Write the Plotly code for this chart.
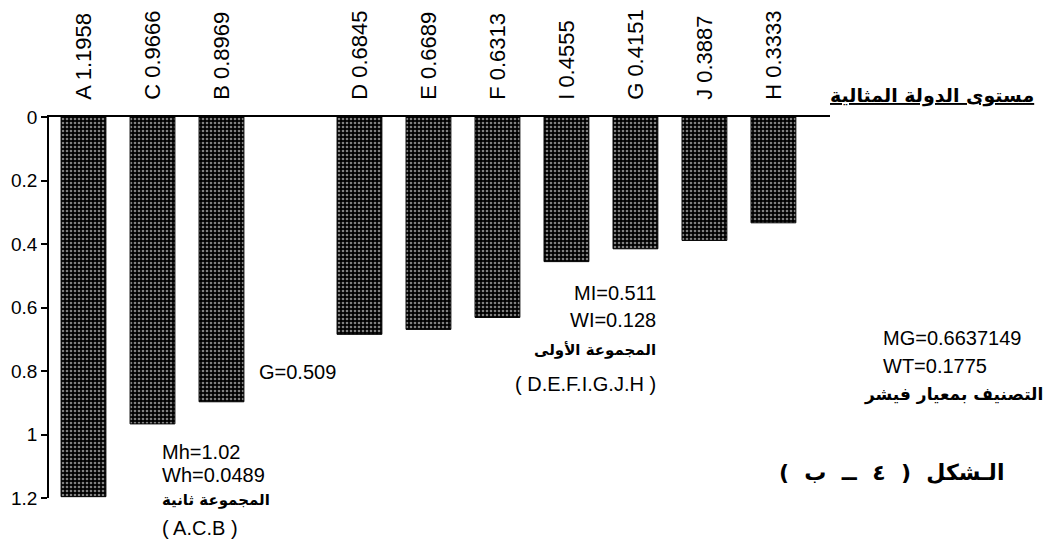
import plotly.graph_objects as go

# ---- data ----
letters = ["A", "C", "B", "D", "E", "F", "I", "G", "J", "H"]
values = [1.1958, 0.9666, 0.8969, 0.6845, 0.6689, 0.6313, 0.4555, 0.4151, 0.3887, 0.3333]
y_ticks = [0, 0.2, 0.4, 0.6, 0.8, 1.0, 1.2]
y_ticktext = ["0", "0.2", "0.4", "0.6", "0.8", "1", "1.2"]

title_ar = "مستوى الدولة المثالية"
group2 = ["Mh=1.02", "Wh=0.0489", "المجموعة ثانية", "( A.C.B )"]
group1 = ["MI=0.511", "WI=0.128", "المجموعة الأولى", "( D.E.F.I.G.J.H )"]
group_total = ["MG=0.6637149", "WT=0.1775", "التصنيف بمعيار فيشر"]
g_text = "G=0.509"
fig_label = "الـشكل  (  ٤  ــ  ب  )"

# ---- layout constants (reference pixel coordinates) ----
W, H = 1051, 546
L, R, T, B = 49, 830, 117, 498
OFF = 8  # page body margin in the browser
GAP_INDEX = 3  # empty slot between the two groups

labels = [f"{l} {v}" for l, v in zip(letters, values)]
cats = labels[:GAP_INDEX] + [" "] + labels[GAP_INDEX:]
vals = values[:GAP_INDEX] + [None] + values[GAP_INDEX:]

NUM_FONT = "Liberation Sans, Arial, sans-serif"
AR_FONT = "DejaVu Sans, sans-serif"

fig = go.Figure()
fig.add_trace(go.Bar(
    x=cats, y=vals,
    marker=dict(color="black",
                line=dict(color="black", width=1),
                pattern=dict(shape=".", fgcolor="white", bgcolor="black",
                             size=4, solidity=0.35)),
    showlegend=False,
))

def px(x):
    return (x - L) / (R - L)

def py(y):
    return (B - y) / (B - T)

ann = []
def add(text, x, y, xanchor="left", size=20, font=NUM_FONT):
    ann.append(dict(text=text, x=px(x), y=py(y), xref="paper", yref="paper",
                    xanchor=xanchor, yanchor="middle", showarrow=False,
                    font=dict(family=font, size=size, color="black")))

# title (underlined)
add(f"<b><u>{title_ar}</u></b>", 1036, 95, xanchor="right", size=19, font=AR_FONT)

# group 2 (A, C, B)
add(group2[0], 160, 452)
add(group2[1], 160, 475)
add(f"<b>{group2[2]}</b>", 160, 500, size=15, font=AR_FONT)
add(group2[3], 160, 528)

# G annotation
add(g_text, 257, 372)

# group 1
add(group1[0], 658, 293, xanchor="right")
add(group1[1], 658, 320, xanchor="right")
add(f"<b>{group1[2]}</b>", 658, 350, xanchor="right", size=15, font=AR_FONT)
add(group1[3], 658, 384, xanchor="right")

# total
add(group_total[0], 881, 338)
add(group_total[1], 881, 366)
add(f"<b>{group_total[2]}</b>", 1045, 394, xanchor="right", size=17, font=AR_FONT)

# figure label
add(f"<b>{fig_label}</b>", 1006, 472, xanchor="right", size=22, font=AR_FONT)

fig.update_layout(
    width=W, height=H,
    margin=dict(l=L - OFF, r=W - R + OFF, t=T - OFF, b=H - B + OFF, pad=0,
                autoexpand=False),
    paper_bgcolor="white", plot_bgcolor="white",
    bargap=0.35,
    font=dict(family=NUM_FONT, size=20, color="black"),
    annotations=ann,
    xaxis=dict(
        type="category", side="top", range=[-0.5, 10.82],
        categoryorder="array", categoryarray=cats,
        showline=True, linecolor="black", linewidth=1.5,
        ticks="", tickangle=-90, ticklabelstandoff=11,
        tickfont=dict(family=NUM_FONT, size=22),
        showgrid=False, zeroline=False, fixedrange=True, automargin=False,
    ),
    yaxis=dict(
        range=[1.2, 0], tickvals=y_ticks, ticktext=y_ticktext,
        showline=True, linecolor="black", linewidth=1.5,
        ticks="outside", ticklen=6, tickcolor="black", tickwidth=1.5,
        ticklabelstandoff=0,
        tickfont=dict(family=NUM_FONT, size=19),
        showgrid=False, zeroline=False, fixedrange=True, automargin=False,
    ),
)

fig.write_html("out.html")
